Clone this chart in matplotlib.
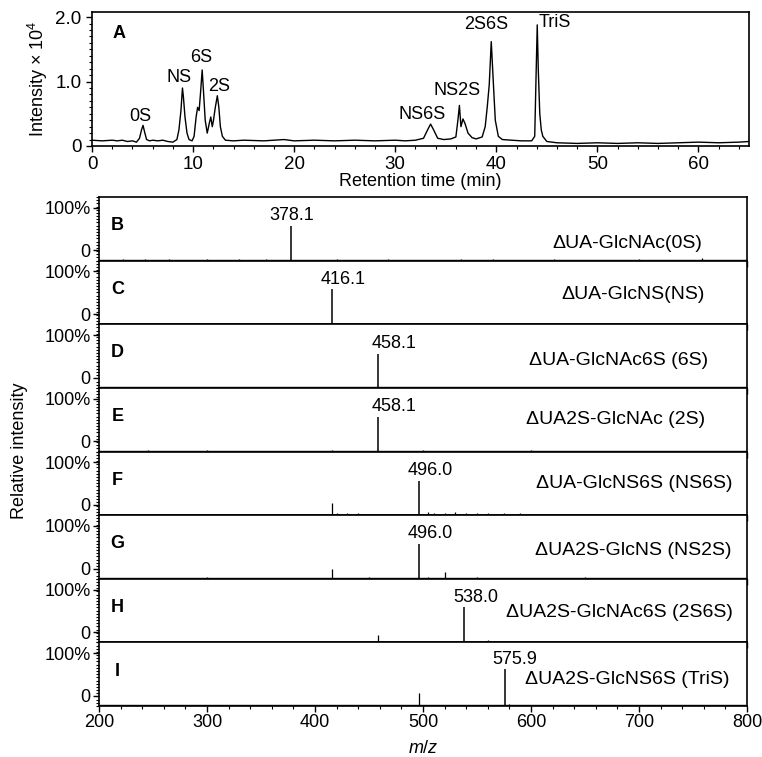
import matplotlib
matplotlib.use("Agg")
import matplotlib.pyplot as plt
from matplotlib.ticker import MultipleLocator, FixedLocator

plt.rcParams['font.family'] = ['Liberation Sans', 'DejaVu Sans']
plt.rcParams['mathtext.fontset'] = 'custom'
plt.rcParams['mathtext.rm'] = 'Liberation Sans'
plt.rcParams['mathtext.it'] = 'Liberation Sans:italic'

# ---------------- Panel A: chromatogram (retention time, intensity x 1e4)
chrom_t = [0, 1, 2, 2.5, 3, 3.5, 4, 4.4, 4.7, 4.9, 5.05, 5.2, 5.4, 5.7, 6, 6.5, 7, 7.5, 8,
           8.4, 8.6, 8.8, 8.95, 9.05, 9.2, 9.4, 9.6, 9.9, 10.1, 10.3, 10.45, 10.6, 10.75,
           10.9, 11.05, 11.2, 11.4, 11.6, 11.75, 11.9, 12.0, 12.2, 12.4, 12.55, 12.7, 12.9,
           13.2, 14, 15, 17, 19, 20, 22, 24, 26, 28, 30, 31, 32, 32.8, 33.2, 33.5, 33.8,
           34.2, 34.8, 35.5, 36.0, 36.2, 36.35, 36.5, 36.7, 36.9, 37.2, 37.6, 38, 38.6,
           38.9, 39.1, 39.3, 39.5, 39.7, 39.9, 40.2, 40.6, 41.5, 42.5, 43.5, 43.8, 43.95,
           44.05, 44.15, 44.3, 44.45, 44.6, 45, 46, 48, 50, 52, 54, 56, 58, 60, 62, 64, 65]
chrom_i = [0.09, 0.08, 0.09, 0.08, 0.09, 0.07, 0.08, 0.06, 0.12, 0.25, 0.32, 0.22, 0.10,
           0.08, 0.09, 0.08, 0.09, 0.07, 0.06, 0.10, 0.25, 0.55, 0.90, 0.75, 0.45, 0.20,
           0.10, 0.08, 0.15, 0.45, 0.60, 0.55, 0.85, 1.18, 0.80, 0.40, 0.20, 0.35, 0.45,
           0.30, 0.38, 0.60, 0.78, 0.60, 0.30, 0.15, 0.09, 0.08, 0.09, 0.08, 0.10, 0.08,
           0.09, 0.08, 0.09, 0.08, 0.09, 0.08, 0.09, 0.12, 0.25, 0.34, 0.25, 0.12, 0.10,
           0.11, 0.14, 0.40, 0.63, 0.30, 0.42, 0.35, 0.20, 0.13, 0.11, 0.14, 0.30, 0.60,
           0.95, 1.62, 1.00, 0.40, 0.15, 0.10, 0.09, 0.08, 0.08, 0.15, 1.20, 1.88, 1.20,
           0.50, 0.25, 0.15, 0.07, 0.05, 0.04, 0.05, 0.04, 0.05, 0.04, 0.05, 0.06, 0.05,
           0.06, 0.07]
chrom_labels = ['0S', 'NS', '6S', '2S', 'NS6S', 'NS2S', '2S6S', 'TriS']
chrom_label_t = [4.8, 8.6, 10.8, 12.6, 32.7, 36.1, 39.0, 45.8]
chrom_label_y = [0.46, 1.06, 1.37, 0.92, 0.49, 0.86, 1.88, 1.92]

# ---------------- Panels B-I: MS spectra
panel_letters = ['B', 'C', 'D', 'E', 'F', 'G', 'H', 'I']
compounds = ['ΔUA-GlcNAc(0S)', 'ΔUA-GlcNS(NS)', 'ΔUA-GlcNAc6S (6S)', 'ΔUA2S-GlcNAc (2S)',
             'ΔUA-GlcNS6S (NS6S)', 'ΔUA2S-GlcNS (NS2S)', 'ΔUA2S-GlcNAc6S (2S6S)',
             'ΔUA2S-GlcNS6S (TriS)']
main_mz = [378.1, 416.1, 458.1, 458.1, 496.0, 496.0, 538.0, 575.9]
main_label = ['378.1', '416.1', '458.1', '458.1', '496.0', '496.0', '538.0', '575.9']
main_int = [55, 55, 54, 55, 54, 55, 55, 58]
minor_mz = [
    [222, 243, 265, 300, 330, 355, 420, 468, 535, 565, 621, 700, 758],
    [260, 300, 340, 390, 455, 520, 650],
    [250, 300, 415, 500, 560, 640],
    [245, 300, 416, 500, 600],
    [300, 380, 416, 420, 430, 440, 505, 510, 520, 530, 540, 550, 560, 575, 590, 620, 660, 700],
    [300, 416, 450, 505, 520, 550, 650],
    [350, 458, 500, 560, 600, 700],
    [300, 496, 580, 620, 700],
]
minor_int = [
    [2, 3, 3, 2, 2, 2, 3, 2, 3, 2, 3, 2, 4],
    [2, 2, 2, 2, 2, 2, 2],
    [2, 2, 2, 2, 2, 2],
    [2, 2, 2, 2, 2],
    [2, 2, 19, 3, 4, 4, 5, 4, 4, 5, 4, 3, 3, 4, 3, 2, 2, 2],
    [2, 16, 2, 3, 10, 2, 2],
    [2, 11, 2, 3, 2, 2],
    [2, 20, 3, 2, 2],
]
compound_y = [27, 47, 43, 50, 50, 44, 47, 42]
compound_x = [759, 761, 764, 761, 787, 786, 787, 784]
label_offset = [0, 10, 15, 15, 11, 11, 11, 9]

FS = 13
FS_C = 14
fig = plt.figure(figsize=(7.62, 7.57), dpi=100)

# ---- Panel A
W, H = 762.0, 757.0
axA = fig.add_axes([92 / W, 1 - 146 / H, (749 - 92) / W, (146 - 12) / H])
axA.plot(chrom_t, chrom_i, color='black', lw=1.0)
axA.set_xlim(0, 65)
axA.set_ylim(0, 2.08)
axA.set_yticks([0, 1.0, 2.0])
axA.set_yticklabels(['0', '1.0', '2.0'])
axA.yaxis.set_minor_locator(MultipleLocator(0.1))
axA.xaxis.set_major_locator(MultipleLocator(10))
axA.xaxis.set_minor_locator(MultipleLocator(2))
axA.tick_params(axis='both', which='major', labelsize=FS + 0.5, length=4, width=1)
axA.tick_params(axis='both', which='minor', length=2, width=0.8)
axA.set_xlabel('Retention time (min)', fontsize=FS, labelpad=0)
axA.set_ylabel('Intensity × 10$^4$', fontsize=FS, labelpad=4)
for s in axA.spines.values():
    s.set_linewidth(1.2)
for lab, t, y in zip(chrom_labels, chrom_label_t, chrom_label_y):
    axA.text(t, y, lab, fontsize=FS, ha='center', va='center')
axA.text(2.7, 1.75, 'A', fontsize=FS, fontweight='bold', ha='center', va='center')

# ---- Panels B-I
top, bottom = 197.0, 706.0
ph = (bottom - top) / 8
left, right = 99.0, 747.0
axes = []
for k in range(8):
    ax = fig.add_axes([left / W, 1 - (top + (k + 1) * ph) / H, (right - left) / W, ph / H])
    axes.append(ax)
    ax.vlines(minor_mz[k], 0, minor_int[k], color='black', lw=0.9)
    ax.vlines([main_mz[k]], 0, [main_int[k]], color='black', lw=1.1)
    ax.axhline(0.8, color='black', lw=1.0)
    ax.set_xlim(200, 800)
    ax.set_ylim(0, 100)
    ax.yaxis.set_major_locator(FixedLocator([16, 83]))
    ax.set_yticklabels(['0', '100%'])
    ax.yaxis.set_minor_locator(MultipleLocator(5))
    ax.xaxis.set_major_locator(MultipleLocator(100))
    ax.xaxis.set_minor_locator(MultipleLocator(20))
    ax.tick_params(axis='both', which='major', labelsize=FS, length=4, width=1, pad=2)
    ax.tick_params(axis='both', which='minor', length=2, width=0.8)
    if k < 7:
        ax.tick_params(axis='x', which='both', labelbottom=False)
    for s in ax.spines.values():
        s.set_linewidth(1.2)
    ax.text(217, 55, panel_letters[k], fontsize=FS, fontweight='bold', ha='center', va='center')
    ax.text(main_mz[k] + label_offset[k], main_int[k] + 2, main_label[k], fontsize=FS,
            ha='center', va='bottom')
    ax.text(compound_x[k], compound_y[k], compounds[k], fontsize=FS_C, ha='right', va='center')

axes[-1].set_xlabel('$m/z$', fontsize=FS, labelpad=6)
fig.text(20 / W, 1 - 451 / H, 'Relative intensity', rotation=90, fontsize=FS,
         ha='center', va='center')

fig.savefig('out.png', dpi=100)
